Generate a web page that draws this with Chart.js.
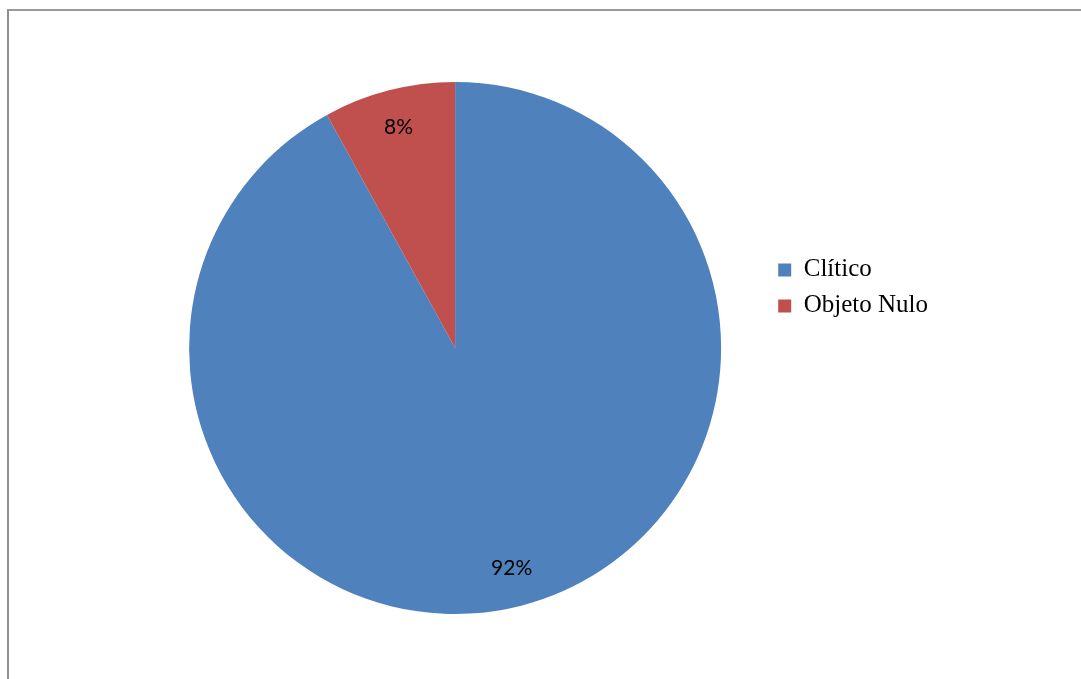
<!DOCTYPE html>
<html>
<head>
<meta charset="utf-8">
<script src="https://cdn.jsdelivr.net/npm/chart.js@4.4.0/dist/chart.umd.min.js"></script>
<style>
  body { margin: 0; overflow: hidden; background: #fff; }
  #frame { position: absolute; left: 7px; top: 9px; width: 1200px; height: 800px;
           border-left: 2px solid #8e8e8e; border-top: 2px solid #9a9a9a; }
  #pieChart { position: absolute; left: 0; top: 0; }
</style>
</head>
<body>
<div id="frame"></div>
<canvas id="pieChart" width="1081" height="679"></canvas>
<script>
const categories = ['Clítico', 'Objeto Nulo'];
const shares = [92, 8];
const sliceColors = ['#4F81BD', '#C0504D'];

// percentage labels inside the slices
const percentLabels = {
    id: 'percentLabels',
    afterDatasetsDraw(chart) {
        const ctx = chart.ctx;
        const meta = chart.getDatasetMeta(0);
        const total = shares.reduce((a, b) => a + b, 0);
        ctx.save();
        ctx.font = '21px Lato';
        ctx.fillStyle = '#000';
        ctx.textAlign = 'center';
        ctx.textBaseline = 'middle';
        meta.data.forEach((arc, i) => {
            const p = arc.getProps(['x', 'y', 'startAngle', 'endAngle', 'outerRadius'], true);
            const mid = (p.startAngle + p.endAngle) / 2;
            const r = p.outerRadius * 0.855;
            const pct = Math.round(shares[i] / total * 100) + '%';
            ctx.fillText(pct, p.x + Math.cos(mid) * r, p.y + Math.sin(mid) * r);
        });
        ctx.restore();
    }
};

const ctx = document.getElementById('pieChart').getContext('2d');

const pieChart = new Chart(ctx, {
    type: 'pie',
    data: {
        labels: categories,
        datasets: [{
            data: shares,
            backgroundColor: sliceColors,
            borderWidth: 0
        }]
    },
    options: {
        responsive: false,
        animation: false,
        layout: {
            padding: { left: 143, right: 143, top: 82, bottom: 65 }
        },
        plugins: {
            tooltip: { enabled: false },
            legend: {
                position: 'right',
                align: 'start',
                title: {
                    display: true,
                    text: '',
                    padding: { top: 0, bottom: 150 }
                },
                labels: {
                    boxWidth: 13,
                    boxHeight: 13,
                    padding: 11,
                    color: '#000',
                    font: { family: 'Liberation Serif', size: 25 }
                }
            }
        }
    },
    plugins: [percentLabels]
});
</script>
</body>
</html>
